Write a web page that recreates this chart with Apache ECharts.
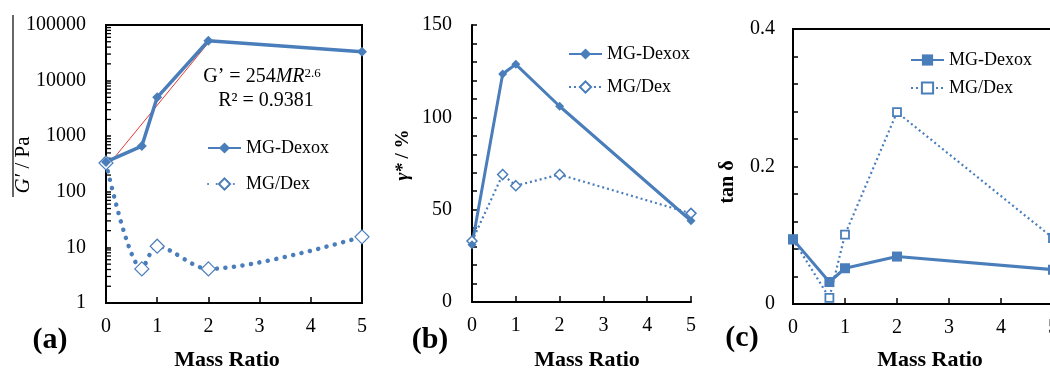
<!DOCTYPE html>
<html>
<head>
<meta charset="utf-8">
<script src="https://cdn.jsdelivr.net/npm/echarts@6/dist/echarts.min.js"></script>
<style>
  html, body { margin: 0; padding: 0; background: #fff; }
  #main { width: 1050px; height: 371px; }
</style>
</head>
<body>
<div id="main"></div>
<script>
// mass ratios shared by all three panels
var massRatio = [0, 0.7, 1, 2, 5];

// (a) storage modulus G' / Pa (log scale)
var gDexox = [345, 665, 5000, 52000, 33000];
var gDex = [330, 4.1, 10.5, 4.1, 15.5];
// red power-law trendline, end points
var fitX = [0, 2];
var fitG = [270, 48000];

// (b) yield strain gamma* / %
var gammaDexox = [31, 123.5, 128.7, 106, 44];
var gammaDex = [33, 69, 63, 69, 48];

// (c) loss tangent
var tanDexox = [0.094, 0.032, 0.052, 0.069, 0.05];
var tanDex = [0.094, 0.009, 0.101, 0.279, 0.096];

// log axis minor ticks (2..9 per decade)
var decades = [1, 10, 100, 1000, 10000];
var minorSteps = [2, 3, 4, 5, 6, 7, 8, 9];

var blue = "#4a7ebb";
var serif = "Liberation Serif";

function pairs(xs, ys) {
  return xs.map(function (x, i) { return [x, ys[i]]; });
}

var minorTicks = [];
decades.forEach(function (d) {
  minorSteps.forEach(function (s) { minorTicks.push([0, d * s]); });
});

var chartDom = document.getElementById("main");
var myChart = echarts.init(chartDom);

function xAxisFor(i) {
  return {
    type: "value",
    gridIndex: i,
    min: 0,
    max: 5,
    interval: 1,
    axisLine: { lineStyle: { color: "#000", width: 2 } },
    axisTick: { inside: true, length: 6, lineStyle: { color: "#000", width: 1.5 } },
    axisLabel: { color: "#000", fontFamily: serif, fontSize: 20, margin: 14 },
    splitLine: { show: false }
  };
}

var tickStyle = { inside: true, length: 5, lineStyle: { color: "#000", width: 1.5 } };

var legendBase = {
  orient: "vertical",
  itemWidth: 33,
  itemHeight: 14,
  selectedMode: false,
  formatter: function (n) { return n.split("|")[0]; },
  textStyle: { fontFamily: serif, fontSize: 18, color: "#000" }
};

var option = {
  animation: false,
  backgroundColor: "#fff",
  grid: [
    { left: 106, top: 25, width: 256, height: 278, show: true, borderColor: "#000", borderWidth: 2, outerBoundsMode: "none" },
    { left: 472, top: 25, width: 219, height: 277, outerBoundsMode: "none" },
    { left: 793, top: 29, width: 260, height: 275, show: true, borderColor: "#000", borderWidth: 2, outerBoundsMode: "none" }
  ],
  xAxis: [xAxisFor(0), xAxisFor(1), xAxisFor(2)],
  yAxis: [
    {
      type: "log",
      logBase: 10,
      gridIndex: 0,
      min: 1,
      max: 100000,
      axisLine: { lineStyle: { color: "#000", width: 2 } },
      axisTick: tickStyle,
      axisLabel: {
        color: "#000", fontFamily: serif, fontSize: 20, margin: 20,
        formatter: function (v) { return String(Math.round(v)); }
      },
      splitLine: { show: false }
    },
    {
      type: "value",
      gridIndex: 1,
      min: 0,
      max: 150,
      interval: 50,
      axisLine: { show: true, lineStyle: { color: "#000", width: 2 } },
      axisTick: tickStyle,
      minorTick: { show: true, splitNumber: 5, length: 5, lineStyle: { color: "#000", width: 1.5 } },
      axisLabel: { color: "#000", fontFamily: serif, fontSize: 20, margin: 20 },
      splitLine: { show: false }
    },
    {
      type: "value",
      gridIndex: 2,
      min: 0,
      max: 0.4,
      interval: 0.2,
      axisLine: { show: true, lineStyle: { color: "#000", width: 2 } },
      axisTick: tickStyle,
      minorTick: { show: true, splitNumber: 5, length: 5, lineStyle: { color: "#000", width: 1.5 } },
      axisLabel: { color: "#000", fontFamily: serif, fontSize: 20, margin: 18 },
      splitLine: { show: false }
    }
  ],
  legend: [
    Object.assign({}, legendBase, { data: ["MG-Dexox|a", "MG/Dex|a"], left: 202, top: 134, itemGap: 18 }),
    Object.assign({}, legendBase, { data: ["MG-Dexox|b", "MG/Dex|b"], left: 563, top: 40, itemGap: 15 }),
    Object.assign({}, legendBase, { data: ["MG-Dexox|c", "MG/Dex|c"], left: 905, top: 46, itemGap: 10 })
  ],
  series: [
    {
      type: "custom",
      xAxisIndex: 0,
      yAxisIndex: 0,
      silent: true,
      clip: false,
      data: minorTicks,
      renderItem: function (params, api) {
        var p = api.coord([0, api.value(1)]);
        return {
          type: "line",
          shape: { x1: p[0], y1: p[1], x2: p[0] + 5, y2: p[1] },
          style: { stroke: "#000", lineWidth: 1.3 }
        };
      }
    },
    {
      name: "fit",
      type: "line",
      xAxisIndex: 0,
      yAxisIndex: 0,
      data: pairs(fitX, fitG),
      symbol: "none",
      lineStyle: { color: "#e53935", width: 1 },
      z: 3
    },
    {
      name: "MG/Dex|a",
      type: "line",
      xAxisIndex: 0,
      yAxisIndex: 0,
      data: pairs(massRatio, gDex),
      smooth: 0.3,
      symbol: "diamond",
      symbolSize: 14,
      itemStyle: { color: "#fff", borderColor: blue, borderWidth: 1.2 },
      lineStyle: { color: blue, width: 4.5, type: [0.1, 8.5], cap: "round" }
    },
    {
      name: "MG-Dexox|a",
      type: "line",
      xAxisIndex: 0,
      yAxisIndex: 0,
      data: pairs(massRatio, gDexox),
      symbol: "diamond",
      symbolSize: 10,
      itemStyle: { color: blue },
      lineStyle: { color: blue, width: 3.5 }
    },
    {
      name: "MG/Dex|b",
      type: "line",
      xAxisIndex: 1,
      yAxisIndex: 1,
      data: pairs(massRatio, gammaDex),
      symbol: "diamond",
      symbolSize: 10,
      itemStyle: { color: "#fff", borderColor: blue, borderWidth: 1.5 },
      lineStyle: { color: blue, width: 2.2, type: [2, 3] }
    },
    {
      name: "MG-Dexox|b",
      type: "line",
      xAxisIndex: 1,
      yAxisIndex: 1,
      data: pairs(massRatio, gammaDexox),
      symbol: "diamond",
      symbolSize: 9,
      itemStyle: { color: blue },
      lineStyle: { color: blue, width: 3 }
    },
    {
      name: "MG/Dex|c",
      type: "line",
      xAxisIndex: 2,
      yAxisIndex: 2,
      data: pairs(massRatio, tanDex),
      symbol: "rect",
      symbolSize: 8,
      itemStyle: { color: "#fff", borderColor: blue, borderWidth: 1.8 },
      lineStyle: { color: blue, width: 2.2, type: [2, 3] }
    },
    {
      name: "MG-Dexox|c",
      type: "line",
      xAxisIndex: 2,
      yAxisIndex: 2,
      data: pairs(massRatio, tanDexox),
      symbol: "rect",
      symbolSize: 10,
      itemStyle: { color: blue },
      lineStyle: { color: blue, width: 3 }
    }
  ],
  graphic: [
    // trendline equation
    {
      type: "text", x: 262, y: 77,
      style: {
        text: "G’ = 254{i|MR}{s|2.6}",
        font: "20px " + serif, fill: "#000", align: "center", verticalAlign: "middle",
        rich: {
          i: { fontFamily: serif, fontSize: 20, fontStyle: "italic" },
          s: { fontFamily: serif, fontSize: 13, verticalAlign: "top" }
        }
      }
    },
    {
      type: "text", x: 266, y: 101,
      style: { text: "R² = 0.9381", font: "20px " + serif, fill: "#000", align: "center", verticalAlign: "middle" }
    },
    // axis titles
    {
      type: "text", x: 23, y: 165, rotation: Math.PI / 2,
      style: {
        text: "{i|G′} / Pa",
        font: "21px " + serif, fill: "#000", align: "center", verticalAlign: "middle",
        rich: { i: { fontFamily: serif, fontSize: 21, fontStyle: "italic" } }
      }
    },
    { type: "line", shape: { x1: 13, y1: 15, x2: 13, y2: 197 }, style: { stroke: "#000", lineWidth: 1.2 } },
    {
      type: "text", x: 403, y: 155, rotation: Math.PI / 2,
      style: {
        text: "{i|γ*} / %",
        font: "bold 19px " + serif, fill: "#000", align: "center", verticalAlign: "middle",
        rich: { i: { fontFamily: serif, fontSize: 19, fontWeight: "bold", fontStyle: "italic" } }
      }
    },
    {
      type: "text", x: 728, y: 182, rotation: Math.PI / 2,
      style: { text: "tan δ", font: "bold 20px " + serif, fill: "#000", align: "center", verticalAlign: "middle" }
    },
    { type: "text", x: 227, y: 360, style: { text: "Mass Ratio", font: "bold 22px " + serif, fill: "#000", align: "center", verticalAlign: "middle" } },
    { type: "text", x: 587, y: 360, style: { text: "Mass Ratio", font: "bold 22px " + serif, fill: "#000", align: "center", verticalAlign: "middle" } },
    { type: "text", x: 930, y: 360, style: { text: "Mass Ratio", font: "bold 22px " + serif, fill: "#000", align: "center", verticalAlign: "middle" } },
    // panel letters
    { type: "text", x: 50, y: 340, style: { text: "(a)", font: "bold 30px " + serif, fill: "#000", align: "center", verticalAlign: "middle" } },
    { type: "text", x: 430, y: 340, style: { text: "(b)", font: "bold 30px " + serif, fill: "#000", align: "center", verticalAlign: "middle" } },
    { type: "text", x: 742, y: 338, style: { text: "(c)", font: "bold 30px " + serif, fill: "#000", align: "center", verticalAlign: "middle" } }
  ]
};

option && myChart.setOption(option);
</script>
</body>
</html>
